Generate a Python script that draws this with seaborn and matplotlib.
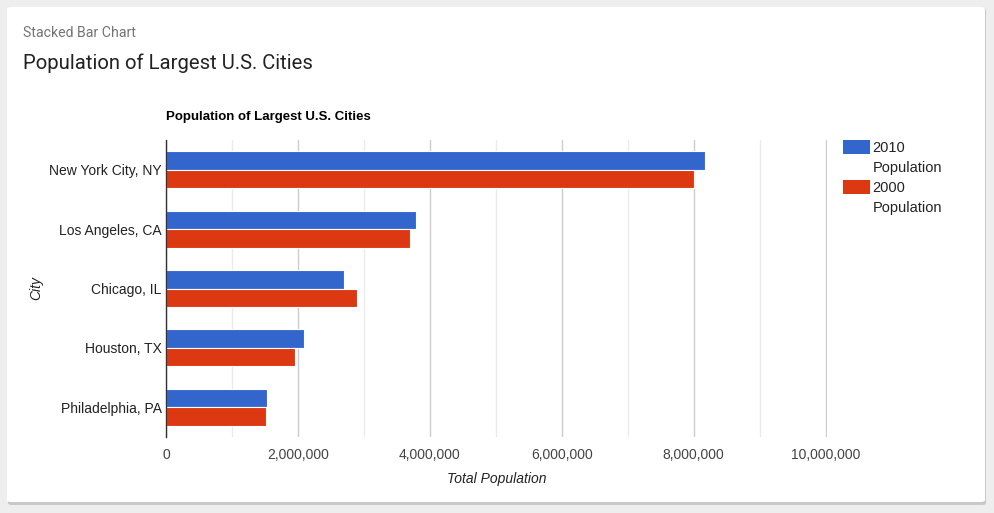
import pandas as pd
import numpy as np
import matplotlib
matplotlib.use("Agg")
import matplotlib.pyplot as plt
import seaborn as sns
from matplotlib.patches import FancyBboxPatch, Patch
from matplotlib.ticker import FuncFormatter, MultipleLocator

# Datos
cities = ["New York City, NY", "Los Angeles, CA", "Chicago, IL", "Houston, TX", "Philadelphia, PA"]
pop_2010 = [8175000, 3792000, 2695000, 2099000, 1526000]
pop_2000 = [8008000, 3694000, 2896000, 1953000, 1517000]
series = ["2010 Population", "2000 Population"]
colors = ["#3366cc", "#dc3912"]

df = pd.DataFrame({
    "City": cities * 2,
    "Population": pop_2010 + pop_2000,
    "Serie": [series[0]] * len(cities) + [series[1]] * len(cities),
})

sns.set_style("white")
plt.rcParams["font.family"] = ["Liberation Sans", "DejaVu Sans"]

fig = plt.figure(figsize=(9.95, 5.13), dpi=100)
fig.patch.set_facecolor("#eeeeee")

# Tarjeta con sombra
shadow = FancyBboxPatch((8 / 995, 1 - 505 / 513), 978 / 995, 497 / 513,
                        boxstyle="round,pad=0,rounding_size=0.004",
                        transform=fig.transFigure, facecolor="#c8c8c8",
                        edgecolor="none", zorder=-2)
card = FancyBboxPatch((7 / 995, 1 - 502 / 513), 978 / 995, 495 / 513,
                      boxstyle="round,pad=0,rounding_size=0.004",
                      transform=fig.transFigure, facecolor="white",
                      edgecolor="none", zorder=-1)
fig.patches.extend([shadow, card])

fig.text(23 / 995, 1 - 33 / 513, "Stacked Bar Chart", fontsize=10.2, color="#757575",
         family=["Roboto", "DejaVu Sans"], va="center", ha="left")
fig.text(23 / 995, 1 - 63 / 513, "Population of Largest U.S. Cities", fontsize=14.6,
         color="#222222", family=["Roboto", "DejaVu Sans"], va="center", ha="left")

ax = fig.add_axes([166 / 995, 1 - 437 / 513, (827 - 166) / 995, (437 - 140) / 513])
ax.set_facecolor("none")
ax.set_zorder(2)

sns.barplot(data=df, x="Population", y="City", hue="Serie", orient="h",
            palette=colors, saturation=1, width=0.62, edgecolor="white", linewidth=0.8,
            ax=ax, legend=False, zorder=3)

ax.set_xlim(0, 10020000)
ax.xaxis.set_major_locator(MultipleLocator(2000000))
ax.xaxis.set_minor_locator(MultipleLocator(1000000))
ax.xaxis.set_major_formatter(FuncFormatter(lambda v, p: f"{int(v):,}"))
ax.grid(axis="x", which="major", color="#cccccc", linewidth=1, zorder=0)
ax.grid(axis="x", which="minor", color="#ebebeb", linewidth=1, zorder=0)
ax.set_axisbelow(True)

for s in ["top", "right", "bottom"]:
    ax.spines[s].set_visible(False)
ax.spines["left"].set_color("#333333")
ax.spines["left"].set_linewidth(1)
ax.spines["left"].set_zorder(4)

ax.tick_params(axis="both", which="both", length=0, labelsize=10, colors="#444444")
ax.tick_params(axis="x", pad=8)
ax.tick_params(axis="y", pad=3)
for lbl in ax.get_yticklabels():
    lbl.set_color("#222222")

ax.set_xlabel("Total Population", fontsize=10, style="italic", color="#222222", labelpad=7)
ax.set_ylabel("City", fontsize=10, style="italic", color="#222222", labelpad=0)
ax.yaxis.set_label_coords(-123 / 661, 0.5)

ax.text(0, 1 + 23 / 297, "Population of Largest U.S. Cities", transform=ax.transAxes,
        fontsize=9.5, fontweight="bold", color="black", ha="left", va="center")

# Leyenda: el cuadro va alineado con la primera línea del texto
blank = Patch(facecolor="none", edgecolor="none")
handles = [Patch(facecolor=colors[0], edgecolor="none"), blank,
           Patch(facecolor=colors[1], edgecolor="none"), blank]
labels = ["2010", "Population", "2000", "Population"]
leg = fig.legend(handles, labels, loc="upper left", bbox_to_anchor=(836 / 995, 1 - 133 / 513),
                 frameon=False, fontsize=10.5, handlelength=1.8, handleheight=1.1,
                 handletextpad=0.2, labelspacing=0.34, borderpad=0)
for t in leg.get_texts():
    t.set_color("#222222")

fig.savefig("out.png", dpi=100, facecolor=fig.get_facecolor())
